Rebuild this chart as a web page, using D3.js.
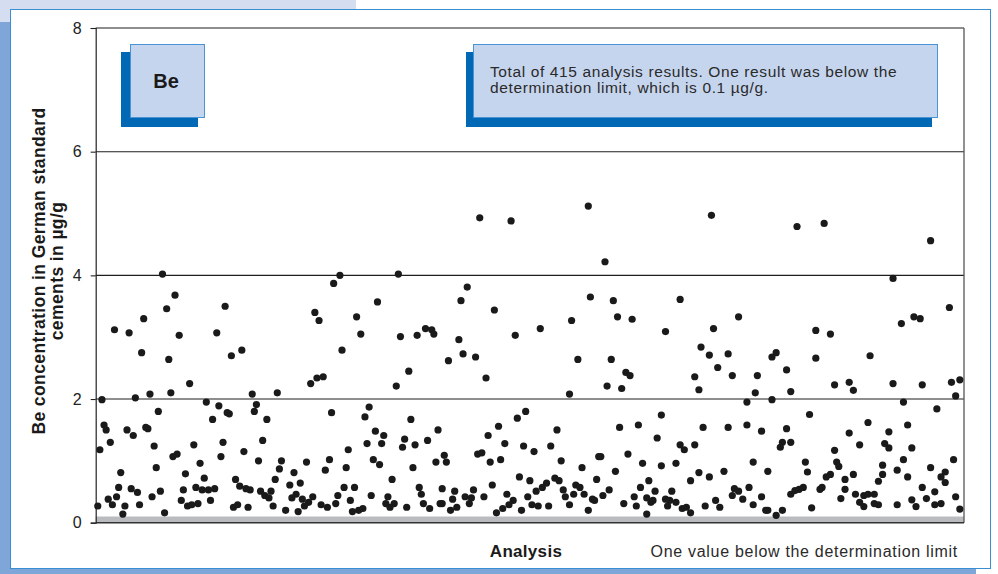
<!DOCTYPE html>
<html>
<head>
<meta charset="utf-8">
<script src="https://cdn.jsdelivr.net/npm/d3@7"></script>
<style>
  body { margin: 0; background: #fff; }
  svg { display: block; font-family: "Liberation Sans", Arial, Helvetica, sans-serif; }
</style>
</head>
<body>
<div id="container"></div>
<script>
// analysis number, Be concentration (µg/g) in five strips
var stripA = [[32,4.02],[38,3.68],[34,3.46],[23,3.30],[62,3.50],[9,3.12],[16,3.07],[40,3.03],[58,3.07],[22,2.75],[35,2.64],[65,2.70],[70,2.79],[45,2.25],[3,1.99],[19,2.02],[26,2.08],[36,2.10],[75,2.08],[53,1.95],[59,1.89],[30,1.80],[63,1.78],[64,1.76],[77,1.91],[76,1.80],[56,1.67],[82,1.67],[4,1.58],[5,1.50],[15,1.50],[18,1.41],[24,1.54],[25,1.52],[7,1.30],[2,1.18],[28,1.24],[47,1.26],[61,1.30],[80,1.33],[37,1.07],[39,1.11],[60,1.07],[71,1.15],[78,1.00],[50,0.96],[29,0.89],[12,0.81],[43,0.79],[52,0.72],[67,0.70],[11,0.57],[17,0.55],[20,0.49],[31,0.51],[42,0.53],[48,0.57],[51,0.53],[54,0.53],[57,0.55],[69,0.59],[72,0.55],[74,0.53],[79,0.51],[81,0.44],[6,0.38],[10,0.42],[27,0.42],[41,0.36],[55,0.36],[1,0.27],[8,0.29],[14,0.27],[21,0.29],[44,0.27],[46,0.29],[49,0.31],[66,0.25],[68,0.29],[73,0.25],[13,0.14],[33,0.16]];
var stripB = [[117,4.00],[114,3.87],[145,4.02],[135,3.57],[105,3.40],[107,3.27],[125,3.33],[127,3.05],[146,3.01],[154,3.03],[158,3.14],[161,3.12],[162,3.05],[118,2.79],[150,2.45],[103,2.25],[106,2.34],[109,2.36],[144,2.21],[87,2.10],[113,1.78],[131,1.87],[129,1.71],[151,1.67],[134,1.48],[138,1.41],[164,1.50],[130,1.28],[137,1.28],[148,1.35],[147,1.22],[153,1.26],[159,1.33],[121,1.18],[89,1.00],[88,0.87],[101,0.98],[112,1.02],[110,0.85],[120,0.89],[133,1.02],[136,0.94],[152,0.89],[163,0.98],[167,1.09],[95,0.81],[86,0.70],[142,0.70],[93,0.61],[98,0.64],[119,0.57],[124,0.57],[155,0.57],[166,0.55],[84,0.51],[83,0.40],[96,0.46],[94,0.40],[99,0.38],[102,0.33],[104,0.42],[116,0.44],[132,0.44],[140,0.42],[156,0.46],[85,0.27],[100,0.27],[108,0.29],[111,0.25],[115,0.31],[122,0.36],[139,0.31],[143,0.31],[141,0.25],[149,0.25],[157,0.31],[165,0.31],[91,0.20],[97,0.18],[123,0.18],[126,0.20],[128,0.23],[160,0.23]];
var stripC = [[184,4.93],[199,4.88],[236,5.12],[244,4.22],[178,3.81],[175,3.59],[191,3.44],[237,3.65],[248,3.59],[250,3.33],[228,3.27],[213,3.14],[201,3.03],[174,2.96],[169,2.62],[176,2.73],[182,2.68],[231,2.64],[247,2.64],[187,2.34],[245,2.21],[227,2.08],[206,1.80],[202,1.69],[193,1.56],[221,1.50],[251,1.54],[188,1.41],[196,1.28],[205,1.24],[210,1.15],[218,1.24],[183,1.11],[185,1.13],[189,0.98],[194,1.02],[223,1.00],[241,1.07],[242,1.07],[233,0.89],[249,0.83],[203,0.74],[208,0.68],[220,0.72],[222,0.68],[240,0.70],[190,0.61],[216,0.64],[214,0.57],[230,0.61],[232,0.57],[172,0.51],[181,0.53],[211,0.51],[224,0.53],[246,0.53],[197,0.46],[229,0.46],[234,0.46],[243,0.44],[177,0.42],[180,0.40],[186,0.42],[207,0.42],[225,0.42],[171,0.38],[200,0.36],[238,0.38],[239,0.36],[166,0.31],[179,0.31],[198,0.29],[209,0.29],[212,0.27],[217,0.27],[227,0.29],[173,0.25],[170,0.20],[195,0.23],[204,0.20],[236,0.20],[192,0.16],[168,0.98]];
var stripD = [[295,4.97],[280,3.61],[257,3.29],[308,3.33],[273,3.09],[296,3.14],[290,2.84],[294,2.71],[303,2.73],[298,2.51],[324,2.68],[326,2.75],[331,2.47],[254,2.43],[256,2.38],[287,2.36],[305,2.38],[317,2.38],[252,2.17],[289,2.15],[316,2.10],[333,2.12],[312,1.95],[324,1.99],[271,1.74],[260,1.58],[291,1.54],[303,1.54],[312,1.58],[319,1.48],[331,1.52],[269,1.37],[329,1.30],[333,1.30],[328,1.22],[280,1.26],[282,1.18],[287,1.26],[255,1.11],[262,0.96],[271,0.92],[278,0.96],[315,0.98],[289,0.81],[285,0.68],[294,0.74],[301,0.83],[322,0.83],[265,0.68],[261,0.57],[313,0.57],[268,0.51],[276,0.51],[306,0.55],[308,0.51],[333,0.46],[258,0.42],[264,0.40],[273,0.38],[305,0.44],[310,0.38],[319,0.42],[266,0.33],[267,0.36],[275,0.36],[278,0.33],[297,0.36],[253,0.31],[259,0.27],[274,0.27],[292,0.27],[299,0.25],[315,0.29],[281,0.23],[283,0.25],[321,0.20],[322,0.20],[329,0.20],[285,0.16],[264,0.14],[326,0.12]];
var stripE = [[336,4.79],[349,4.84],[400,4.56],[382,3.95],[409,3.48],[386,3.22],[392,3.33],[395,3.30],[345,3.11],[352,3.05],[345,2.66],[371,2.70],[354,2.23],[361,2.27],[363,2.14],[382,2.25],[396,2.23],[410,2.27],[414,2.31],[412,2.05],[387,1.95],[403,1.84],[342,1.75],[370,1.62],[389,1.58],[361,1.45],[380,1.47],[366,1.26],[378,1.28],[380,1.21],[391,1.21],[354,1.17],[411,1.02],[387,1.02],[340,0.98],[355,0.98],[356,0.91],[377,0.93],[400,0.89],[341,0.82],[352,0.78],[350,0.74],[363,0.78],[384,0.85],[407,0.82],[377,0.78],[405,0.74],[389,0.74],[359,0.70],[407,0.65],[375,0.67],[337,0.54],[339,0.57],[335,0.52],[347,0.54],[348,0.57],[359,0.54],[396,0.57],[402,0.50],[364,0.46],[357,0.39],[368,0.44],[370,0.46],[373,0.46],[398,0.39],[412,0.42],[391,0.37],[366,0.33],[368,0.26],[373,0.31],[375,0.29],[384,0.29],[393,0.26],[402,0.29],[405,0.31],[343,0.24],[414,0.22]];

var yTicks = [0, 2, 4, 6, 8];
var detLimit = 0.1;        // determination limit, µg/g
var nAnalyses = 415;

var results = stripA.concat(stripB, stripC, stripD, stripE);

var W = 998, H = 574;
var plot = { left: 95.7, right: 964, top: 28, bottom: 522.7 };

var svg = d3.select("#container").append("svg")
  .attr("width", W)
  .attr("height", H);

// page frame
svg.append("rect").attr("x", 0).attr("y", 0).attr("width", 356).attr("height", 9).attr("fill", "#d5ddf1");
svg.append("rect").attr("x", 0).attr("y", 0).attr("width", 10).attr("height", 22).attr("fill", "#d5ddf1");
svg.append("rect").attr("x", 0).attr("y", 22).attr("width", 10).attr("height", H - 22).attr("fill", "#7fa6d8");
svg.append("rect").attr("x", 0).attr("y", 569).attr("width", 976).attr("height", 5).attr("fill", "#7fa6d8");
svg.append("rect")
  .attr("x", 10.5).attr("y", 9.5)
  .attr("width", 980).attr("height", 559)
  .attr("fill", "#fff")
  .attr("stroke", "#3a8ed2")
  .attr("stroke-width", 1);

var x = d3.scaleLinear().domain([0, nAnalyses + 1]).range([plot.left, plot.right]);
var y = d3.scaleLinear().domain([0, 8]).range([plot.bottom, plot.top]);

// band below the determination limit
svg.append("rect")
  .attr("x", plot.left)
  .attr("y", y(detLimit))
  .attr("width", plot.right - plot.left)
  .attr("height", y(0) - y(detLimit))
  .attr("fill", "#babbbf");

// grid lines
svg.append("g")
  .selectAll("line")
  .data(yTicks.filter(function(d) { return d > 0; }))
  .enter()
  .append("line")
  .attr("x1", plot.left)
  .attr("x2", plot.right)
  .attr("y1", function(d) { return y(d); })
  .attr("y2", function(d) { return y(d); })
  .attr("stroke", "#1e1e1e")
  .attr("stroke-width", 1.1);

// right and bottom border of plot
svg.append("line")
  .attr("x1", plot.right).attr("x2", plot.right)
  .attr("y1", plot.top).attr("y2", plot.bottom)
  .attr("stroke", "#555").attr("stroke-width", 1.3);
svg.append("line")
  .attr("x1", plot.left).attr("x2", plot.right)
  .attr("y1", plot.bottom).attr("y2", plot.bottom)
  .attr("stroke", "#333").attr("stroke-width", 1.4);

// y axis
var yAxis = d3.axisLeft(y)
  .tickValues(yTicks)
  .tickSize(5)
  .tickPadding(9);

var gy = svg.append("g")
  .attr("transform", "translate(" + plot.left + ",0)")
  .call(yAxis);
gy.select(".domain").attr("stroke", "#222").attr("stroke-width", 1.2);
gy.selectAll(".tick line").attr("stroke", "#222").attr("stroke-width", 1.1);
gy.selectAll(".tick text")
  .attr("fill", "#222")
  .style("font-size", "16px")
  .style("font-family", "'Liberation Sans', Arial, sans-serif");

// points
svg.append("g")
  .selectAll("circle")
  .data(results)
  .enter()
  .append("circle")
  .attr("cx", function(d) { return x(d[0]); })
  .attr("cy", function(d) { return y(d[1]); })
  .attr("r", 3.6)
  .attr("fill", "#1b1a1a");

// "Be" label box
svg.append("rect").attr("x", 121).attr("y", 52).attr("width", 77).attr("height", 75).attr("fill", "#0068b5");
svg.append("rect").attr("x", 130.5).attr("y", 44.5).attr("width", 74).attr("height", 73)
  .attr("fill", "#c6d5ee").attr("stroke", "#4a94d6").attr("stroke-width", 1);
svg.append("text")
  .attr("x", 166).attr("y", 88)
  .attr("text-anchor", "middle")
  .style("font-size", "20px")
  .style("font-weight", "bold")
  .attr("fill", "#1b1a1a")
  .text("Be");

// note box
svg.append("rect").attr("x", 466).attr("y", 52).attr("width", 466).attr("height", 75).attr("fill", "#0068b5");
svg.append("rect").attr("x", 473.5).attr("y", 44.5).attr("width", 464).attr("height", 73)
  .attr("fill", "#c6d5ee").attr("stroke", "#4a94d6").attr("stroke-width", 1);
var note = svg.append("text")
  .attr("x", 490).attr("y", 77)
  .style("font-size", "15.5px")
  .style("letter-spacing", "0.62px")
  .attr("fill", "#2a2a2a");
note.append("tspan").attr("x", 490).attr("dy", 0)
  .text("Total of " + nAnalyses + " analysis results. One result was below the");
note.append("tspan").attr("x", 490).attr("dy", 15.5)
  .text("determination limit, which is " + detLimit + " µg/g.");

// axis titles
var yTitle = svg.append("text")
  .attr("transform", "translate(45,271) rotate(-90)")
  .attr("text-anchor", "middle")
  .style("font-size", "17.5px")
  .style("font-weight", "bold")
  .style("letter-spacing", "0.4px")
  .attr("fill", "#1b1a1a");
yTitle.append("tspan").attr("x", 0).attr("dy", 0).text("Be concentration in German standard");
yTitle.append("tspan").attr("x", 0).attr("dy", 18).text("cements in µg/g");

svg.append("text")
  .attr("x", 526).attr("y", 557)
  .attr("text-anchor", "middle")
  .style("font-size", "17px")
  .style("font-weight", "bold")
  .style("letter-spacing", "0.3px")
  .attr("fill", "#1b1a1a")
  .text("Analysis");

svg.append("text")
  .attr("x", 958).attr("y", 557)
  .attr("text-anchor", "end")
  .style("font-size", "16px")
  .style("letter-spacing", "0.7px")
  .attr("fill", "#2a2a2a")
  .text("One value below the determination limit");
</script>
</body>
</html>
